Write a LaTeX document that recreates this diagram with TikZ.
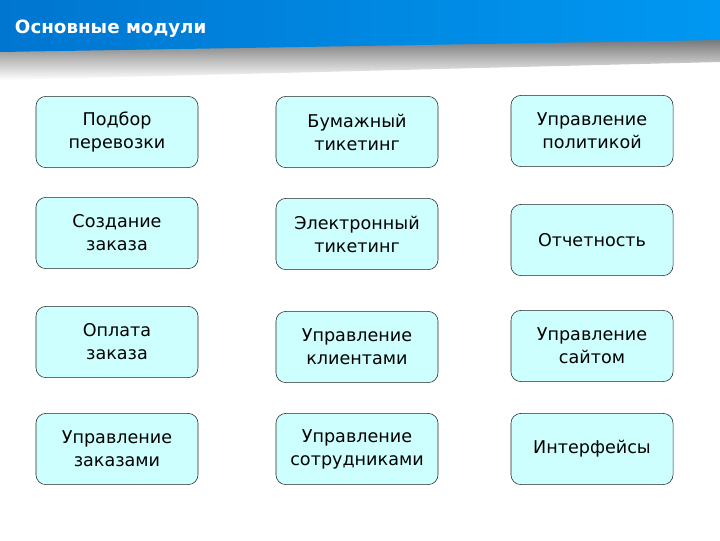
\documentclass[tikz,border=0pt]{standalone}
\usepackage{fontspec}
\setmainfont{DejaVu Sans}
\usetikzlibrary{positioning}
\definecolor{banddark}{RGB}{0,118,208}
\definecolor{bandlight}{RGB}{0,152,242}
\definecolor{boxcyan}{RGB}{206,255,255}
\tikzstyle{module} = [rectangle, rounded corners=7pt, minimum width=4.05cm, minimum height=1.78cm, text centered, align=center, draw=black!85, fill=boxcyan, font=\fontsize{12.5}{16.3}\selectfont]
\tikzstyle{title} = [anchor=west, text=white, font=\bfseries\fontsize{13}{15}\selectfont]

\begin{document}
\begin{tikzpicture}[x=0.025cm, y=-0.025cm]
\useasboundingbox (0,0) rectangle (720,540);

% header band with its shadow
\shade[top color=black!55, bottom color=white] (0,49) -- (720,38) -- (720,62) -- (0,80) -- cycle;
\shade[left color=banddark, right color=bandlight] (0,0) -- (720,0) -- (720,40) -- (0,52) -- cycle;
\node (head) [title] at (10,29) {Основные модули};

% first column
\node (podbor) [module] at (117,132) {Подбор\\перевозки};
\node (sozdanie) [module] at (117,233) {Создание\\заказа};
\node (oplata) [module] at (117,342) {Оплата\\заказа};
\node (zakazy) [module] at (117,449) {Управление\\заказами};

% second column
\node (bumazhny) [module] at (357,132) {Бумажный\\тикетинг};
\node (elektronny) [module] at (357,234) {Электронный\\тикетинг};
\node (klienty) [module] at (357,347) {Управление\\клиентами};
\node (sotrudniki) [module] at (357,449) {Управление\\сотрудниками};

% third column
\node (politika) [module] at (592,131) {Управление\\политикой};
\node (otchet) [module] at (592,240) {Отчетность};
\node (sait) [module] at (592,346) {Управление\\сайтом};
\node (interfeis) [module] at (592,449) {Интерфейсы};

\end{tikzpicture}
\end{document}
